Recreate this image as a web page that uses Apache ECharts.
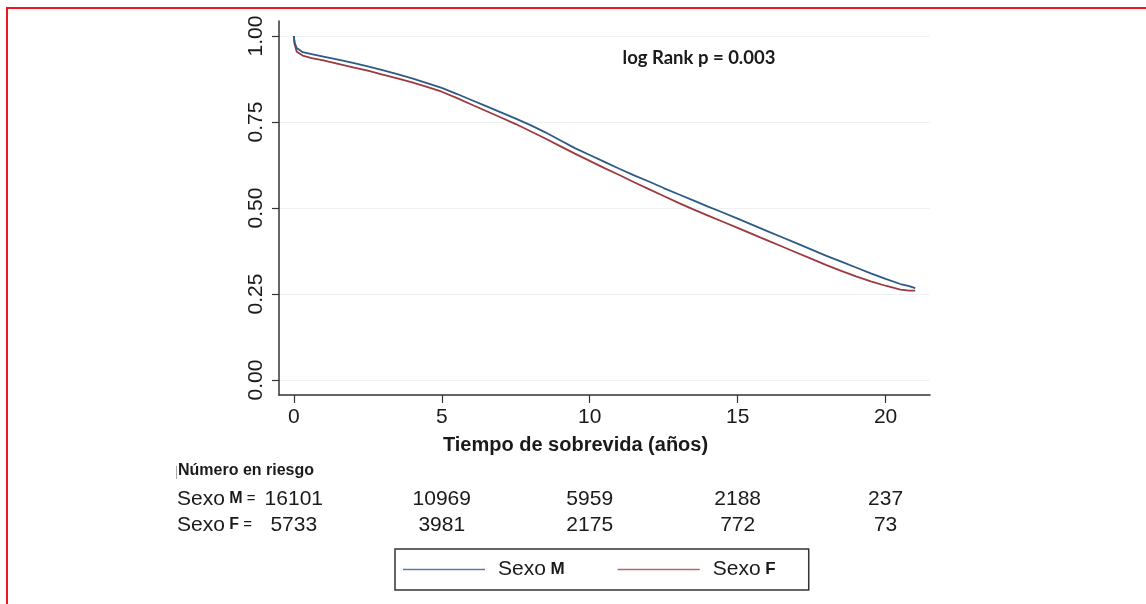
<!DOCTYPE html>
<html>
<head>
<meta charset="utf-8">
<script src="https://cdn.jsdelivr.net/npm/echarts@6/dist/echarts.min.js"></script>
<style>
html, body { margin: 0; padding: 0; background: #fff; }
#chart { width: 1146px; height: 604px; }
</style>
</head>
<body>
<div id="chart"></div>
<script>
// Kaplan-Meier
var years = [0, 0.03, 0.1, 0.3, 0.6,
  1, 1.5, 2, 2.5, 3, 3.5, 4, 4.5, 5, 5.5,
  6, 6.5, 7, 7.5, 8, 8.5, 9, 9.5, 10, 10.5,
  11, 11.5, 12, 12.5, 13, 13.5, 14, 14.5, 15, 15.5,
  16, 16.5, 17, 17.5, 18, 18.5, 19, 19.5, 20,
  20.5, 20.8, 21];
var survM = [1.000, 0.980, 0.965, 0.953, 0.947,
  0.940, 0.931, 0.922, 0.912, 0.901, 0.889, 0.877, 0.863, 0.849, 0.832,
  0.814, 0.796, 0.778, 0.760, 0.741, 0.720, 0.697, 0.674, 0.654, 0.634,
  0.614, 0.595, 0.577, 0.558, 0.540, 0.522, 0.504, 0.487, 0.469, 0.451,
  0.433, 0.415, 0.397, 0.379, 0.361, 0.344, 0.327, 0.310, 0.294,
  0.279, 0.273, 0.267];
var survF = [1.000, 0.975, 0.954, 0.943, 0.936,
  0.929, 0.919, 0.909, 0.899, 0.888, 0.877, 0.865, 0.852, 0.838, 0.820,
  0.801, 0.782, 0.763, 0.744, 0.723, 0.702, 0.680, 0.658, 0.637, 0.616,
  0.596, 0.575, 0.555, 0.535, 0.515, 0.496, 0.478, 0.460, 0.442, 0.424,
  0.406, 0.388, 0.370, 0.352, 0.334, 0.317, 0.301, 0.287, 0.274,
  0.263, 0.260, 0.260];

var xTicks = [0, 5, 10, 15, 20];
var yTicks = [0, 0.25, 0.5, 0.75, 1];
var groups = ['M', 'F'];
var riskTimes = [0, 5, 10, 15, 20];
var riskM = [16101, 10969, 5959, 2188, 237];
var riskF = [5733, 3981, 2175, 772, 73];

var blue = '#2d5b87';
var red = '#9c3a40';
var ink = '#1a1a1a';
var font = 'Liberation Sans';

function pairs(xs, ys) {
  return xs.map(function (x, i) { return [x, ys[i]]; });
}
function riskPoints(row, vals) {
  return riskTimes.map(function (t, i) { return [t, row, vals[i]]; });
}

var chart = echarts.init(document.getElementById('chart'));

var riskLabel = {
  show: true, position: 'inside', color: ink, fontSize: 21, fontFamily: font,
  textBorderWidth: 0, opacity: 1,
  formatter: function (p) { return String(p.value[2]); }
};

var option = {
  animation: false,
  backgroundColor: '#fff',
  textStyle: { fontFamily: font },
  grid: [
    { left: 279, top: 21, width: 651, height: 374 },
    { left: 279, top: 486, width: 651, height: 52 }
  ],
  xAxis: [{
    gridIndex: 0,
    type: 'value',
    min: -0.5,
    max: 21.5,
    name: 'Tiempo de sobrevida (años)',
    nameLocation: 'middle',
    nameGap: 40,
    nameTextStyle: { color: ink, fontSize: 20, fontWeight: 'bold', fontFamily: font, padding: [0, 58, 0, 0] },
    axisLine: { onZero: false, lineStyle: { color: '#333', width: 1.5 } },
    axisTick: { customValues: xTicks, length: 8, lineStyle: { color: '#333', width: 1.2 } },
    axisLabel: { customValues: xTicks, color: ink, fontSize: 21, margin: 12 },
    splitLine: { show: false }
  }, {
    gridIndex: 1,
    type: 'value',
    min: -0.5,
    max: 21.5,
    show: false
  }],
  yAxis: [{
    gridIndex: 0,
    type: 'value',
    min: -0.0436,
    max: 1.0436,
    axisLine: { show: true, onZero: false, lineStyle: { color: '#333', width: 1.5 } },
    axisTick: { show: true, customValues: yTicks, length: 7, lineStyle: { color: '#333', width: 1.2 } },
    axisLabel: {
      customValues: yTicks, rotate: 90, color: ink, fontSize: 21, margin: 12,
      formatter: function (v) { return v.toFixed(2); }
    },
    splitLine: { show: true, lineStyle: { color: '#edf1f2', width: 1.2 } }
  }, {
    gridIndex: 1,
    type: 'category',
    data: groups,
    inverse: true,
    axisLine: { show: false },
    axisTick: { show: false },
    splitLine: { show: false },
    axisLabel: {
      align: 'left',
      margin: 102,
      formatter: function (v) { return '{s|Sexo}{l| ' + v + '}{e| = }'; },
      rich: {
        s: { fontSize: 21, color: ink, fontFamily: font },
        l: { fontSize: 16, fontWeight: 'bold', color: ink, fontFamily: font },
        e: { fontSize: 15, color: ink, fontFamily: font }
      }
    }
  }],
  legend: {
    left: 395,
    top: 549,
    orient: 'horizontal',
    data: ['M', 'F'],
    icon: 'rect',
    itemWidth: 82,
    itemHeight: 1.4,
    itemGap: 53,
    padding: [10, 33, 10, 8],
    borderColor: '#333',
    borderWidth: 1.5,
    borderRadius: 0,
    formatter: function (n) { return '{a|Sexo}{b| ' + n + '}'; },
    textStyle: {
      rich: {
        a: { fontSize: 21, color: ink, fontFamily: font, padding: [0, 0, 0, 8], lineHeight: 23 },
        b: { fontSize: 17, fontWeight: 'bold', color: ink, fontFamily: font, lineHeight: 23 }
      }
    }
  },
  series: [{
    name: 'M',
    type: 'line',
    xAxisIndex: 0, yAxisIndex: 0,
    data: pairs(years, survM),
    symbol: 'none',
    lineStyle: { color: blue, width: 1.8 },
    itemStyle: { color: '#5a7ea0' },
    z: 3
  }, {
    name: 'F',
    type: 'line',
    xAxisIndex: 0, yAxisIndex: 0,
    data: pairs(years, survF),
    symbol: 'none',
    lineStyle: { color: red, width: 1.8 },
    itemStyle: { color: '#b2676b' },
    z: 2
  }, {
    name: 'riesgo M',
    type: 'scatter',
    xAxisIndex: 1, yAxisIndex: 1,
    data: riskPoints('M', riskM),
    symbolSize: 0,
    silent: true,
    itemStyle: { opacity: 1 },
    label: riskLabel
  }, {
    name: 'riesgo F',
    type: 'scatter',
    xAxisIndex: 1, yAxisIndex: 1,
    data: riskPoints('F', riskF),
    symbolSize: 0,
    silent: true,
    itemStyle: { opacity: 1 },
    label: riskLabel
  }],
  graphic: [{
    type: 'polyline',
    shape: { points: [[7, 604], [7, 8], [1146, 8]] },
    style: { stroke: '#f0141e', lineWidth: 2, fill: null },
    silent: true
  }, {
    type: 'text',
    x: 699, y: 58,
    style: {
      text: 'log Rank p = 0.003', fill: ink,
      font: 'bold 18.5px Lato', align: 'center', verticalAlign: 'middle'
    }
  }, {
    type: 'text',
    x: 178, y: 471,
    style: {
      text: 'Número en riesgo', fill: ink,
      font: 'bold 16px "Liberation Sans"', align: 'left', verticalAlign: 'middle'
    }
  }, {
    type: 'line',
    shape: { x1: 176.5, y1: 466, x2: 176.5, y2: 479 },
    style: { stroke: '#aaa', lineWidth: 1 }
  }]
};

chart.setOption(option);
</script>
</body>
</html>
